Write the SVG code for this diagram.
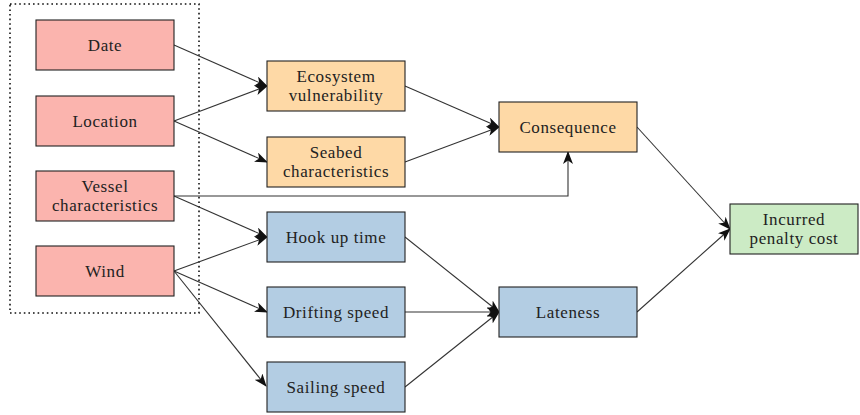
<svg xmlns="http://www.w3.org/2000/svg" width="860" height="415" viewBox="0 0 860 415">
<style>
.n rect{stroke:#222;stroke-width:1.1}
.red rect{fill:#FBB4AE}.org rect{fill:#FED9A6}.blu rect{fill:#B3CDE3}.grn rect{fill:#CCEBC5}
text{font-family:"Liberation Serif","Times New Roman",serif;font-size:17px;fill:#222;text-anchor:middle;letter-spacing:0.6px}
.e path,.e line{stroke:#333;stroke-width:1.1;fill:none}
</style>
<defs>
<marker id="a" viewBox="0 0 13 10" refX="12" refY="5" markerWidth="13" markerHeight="10" markerUnits="userSpaceOnUse" orient="auto">
<path d="M0,0 L13,5 L0,10 L3.5,5 Z" fill="#111"/>
</marker>
</defs>
<rect x="10" y="4" width="189" height="309" fill="none" stroke="#111" stroke-width="1.6" stroke-dasharray="1.6 3"/>
<g class="e">
<line x1="174" y1="45" x2="267" y2="86" marker-end="url(#a)"/>
<line x1="174" y1="121" x2="267" y2="86" marker-end="url(#a)"/>
<line x1="174" y1="121" x2="267" y2="162" marker-end="url(#a)"/>
<path d="M174,196 H568 V152" marker-end="url(#a)"/>
<line x1="174" y1="196" x2="267" y2="237" marker-end="url(#a)"/>
<line x1="174" y1="271" x2="267" y2="237" marker-end="url(#a)"/>
<line x1="174" y1="271" x2="267" y2="312" marker-end="url(#a)"/>
<line x1="174" y1="271" x2="266" y2="386" marker-end="url(#a)"/>
<line x1="405" y1="86" x2="499" y2="127" marker-end="url(#a)"/>
<line x1="405" y1="162" x2="499" y2="127" marker-end="url(#a)"/>
<line x1="405" y1="237" x2="499" y2="312" marker-end="url(#a)"/>
<line x1="405" y1="312" x2="499" y2="312" marker-end="url(#a)"/>
<line x1="405" y1="387" x2="499" y2="312" marker-end="url(#a)"/>
<line x1="637" y1="127" x2="730" y2="229" marker-end="url(#a)"/>
<line x1="637" y1="312" x2="730" y2="229" marker-end="url(#a)"/>
</g>
<g id="date" class="n red"><rect x="36" y="20" width="138" height="50"/><text x="105" y="51">Date</text></g>
<g id="location" class="n red"><rect x="36" y="96" width="138" height="50"/><text x="105" y="127">Location</text></g>
<g id="vessel" class="n red"><rect x="36" y="171" width="138" height="50"/><text x="105" y="192">Vessel</text><text x="105" y="211">characteristics</text></g>
<g id="wind" class="n red"><rect x="36" y="246" width="138" height="50"/><text x="105" y="277">Wind</text></g>
<g id="ecosystem" class="n org"><rect x="267" y="61" width="138" height="50"/><text x="336" y="82">Ecosystem</text><text x="336" y="101">vulnerability</text></g>
<g id="seabed" class="n org"><rect x="267" y="137" width="138" height="50"/><text x="336" y="158">Seabed</text><text x="336" y="177">characteristics</text></g>
<g id="hookup" class="n blu"><rect x="267" y="212" width="138" height="50"/><text x="336" y="243">Hook up time</text></g>
<g id="drifting" class="n blu"><rect x="267" y="287" width="138" height="50"/><text x="336" y="318">Drifting speed</text></g>
<g id="sailing" class="n blu"><rect x="267" y="362" width="138" height="50"/><text x="336" y="393">Sailing speed</text></g>
<g id="consequence" class="n org"><rect x="499" y="102" width="138" height="50"/><text x="568" y="133">Consequence</text></g>
<g id="lateness" class="n blu"><rect x="499" y="287" width="138" height="50"/><text x="568" y="318">Lateness</text></g>
<g id="penalty" class="n grn"><rect x="730" y="204" width="128" height="50"/><text x="794" y="225">Incurred</text><text x="794" y="244">penalty cost</text></g>
</svg>
